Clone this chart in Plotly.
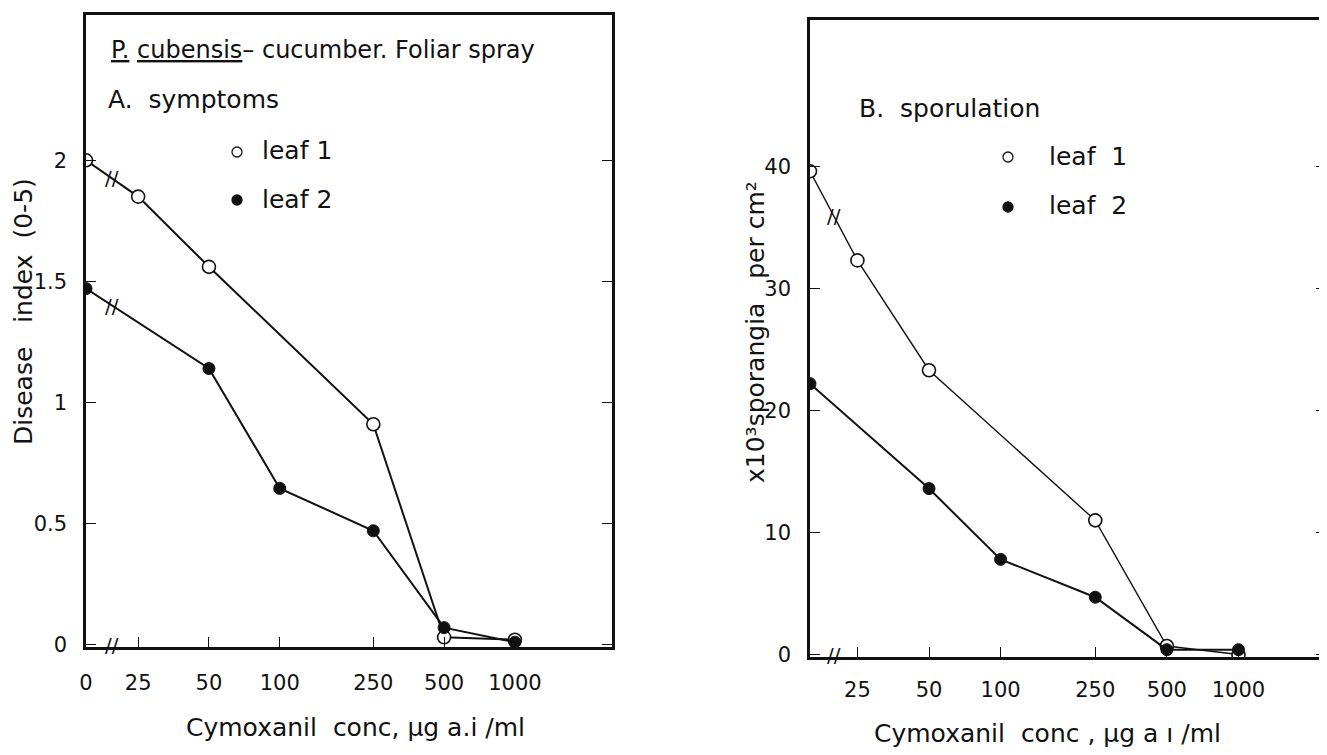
import math
import plotly.graph_objects as go

# ---------------- data ----------------
conc = [0, 25, 50, 100, 250, 500, 1000]
tick_labels_A = ["0", "25", "50", "100", "250", "500", "1000"]
tick_labels_B = ["25", "50", "100", "250", "500", "1000"]

A_leaf1 = [2.0, 1.85, 1.56, None, 0.91, 0.03, 0.02]
A_leaf2 = [1.47, None, 1.14, 0.645, 0.47, 0.07, 0.01]

B_leaf1 = [39.6, 32.3, 23.3, None, 11.0, 0.7, 0.0]
B_leaf2 = [22.2, None, 13.6, 7.8, 4.7, 0.4, 0.4]

A_yticks = [0, 0.5, 1, 1.5, 2]
A_yticktext = ["0", "0.5", "1", "1.5", "2"]
B_yticks = [0, 10, 20, 30, 40]

# plotting position used for the "0" dose on the broken log axis
ZERO_POS_A = 15.0
ZERO_POS_B = 15.8

# page is 1327x755; the html body adds an 8px margin around the figure
OFF = 8
W, H = 1327 - OFF, 755 - OFF
FONT = "'DejaVu Sans', sans-serif"
INK = "#111111"


def px_x(p):
    return (p - OFF) / W


def px_y(p):
    return 1 - (p - OFF) / H


def xpos(values, zero_pos):
    return [zero_pos if c == 0 else c for c in values]


xA = xpos(conc, ZERO_POS_A)
xB = xpos(conc, ZERO_POS_B)

fig = go.Figure()

open_marker = dict(symbol="circle", size=13, color="white", line=dict(color=INK, width=1.6))
fill_marker = dict(symbol="circle", size=12, color=INK, line=dict(color=INK, width=1))

fig.add_trace(go.Scatter(x=xA, y=A_leaf1, mode="lines+markers", connectgaps=True,
                         line=dict(color=INK, width=2), marker=open_marker,
                         xaxis="x", yaxis="y", showlegend=False, name="leaf 1"))
fig.add_trace(go.Scatter(x=xA, y=A_leaf2, mode="lines+markers", connectgaps=True,
                         line=dict(color=INK, width=2), marker=fill_marker,
                         xaxis="x", yaxis="y", showlegend=False, name="leaf 2"))
fig.add_trace(go.Scatter(x=xB, y=B_leaf1, mode="lines+markers", connectgaps=True,
                         line=dict(color=INK, width=1.4), marker=open_marker,
                         xaxis="x2", yaxis="y2", showlegend=False, name="leaf 1"))
fig.add_trace(go.Scatter(x=xB, y=B_leaf2, mode="lines+markers", connectgaps=True,
                         line=dict(color=INK, width=2), marker=fill_marker,
                         xaxis="x2", yaxis="y2", showlegend=False, name="leaf 2"))

tickfont = dict(family=FONT, size=21, color=INK)

common_x = dict(type="log", showgrid=False, zeroline=False, showline=True,
                linecolor=INK, linewidth=3, mirror=True, ticks="inside",
                ticklen=10, tickcolor=INK, tickwidth=1.2, tickfont=tickfont,
                automargin=False)
common_y = dict(showgrid=False, zeroline=False, showline=True, linecolor=INK,
                linewidth=2.5, mirror="ticks", ticks="inside", ticklen=10,
                tickcolor=INK, tickwidth=1.2, tickfont=tickfont,
                ticklabelstandoff=12, automargin=False)

fig.update_layout(
    width=W, height=H,
    margin=dict(l=0, r=0, t=0, b=0),
    paper_bgcolor="white", plot_bgcolor="white",
    font=dict(family=FONT, color=INK, size=21),
    xaxis=dict(common_x, domain=[px_x(86), px_x(612)],
               range=[math.log10(ZERO_POS_A), 3.413], ticklabelstandoff=15,
               tickvals=xA, ticktext=tick_labels_A, anchor="y"),
    yaxis=dict(common_y, domain=[px_y(647), px_y(15)], range=[-0.01, 2.6],
               tickvals=A_yticks, ticktext=A_yticktext, anchor="x"),
    xaxis2=dict(common_x, domain=[px_x(810), px_x(1326)],
                range=[math.log10(ZERO_POS_B), 3.368], ticklabelstandoff=12,
                tickvals=xB[1:], ticktext=tick_labels_B, anchor="y2"),
    yaxis2=dict(common_y, domain=[px_y(657), px_y(20)], range=[-0.2, 52],
                tickvals=B_yticks, ticktext=[str(v) for v in B_yticks], anchor="x2"),
)

ann = []
shapes = []


def text(x, y, s, size=24, xanchor="left", angle=0):
    ann.append(dict(x=px_x(x), y=px_y(y), xref="paper", yref="paper", text=s,
                    showarrow=False, xanchor=xanchor, yanchor="middle",
                    textangle=angle, font=dict(family=FONT, size=size, color=INK)))


def legend_dot(x, y, filled, r=5):
    shapes.append(dict(type="circle", xref="paper", yref="paper",
                       x0=px_x(x - r), x1=px_x(x + r), y0=px_y(y + r), y1=px_y(y - r),
                       line=dict(color=INK, width=1.3),
                       fillcolor=INK if filled else "white"))


# panel A texts
text(109, 50, "<u>P.</u> <u>cubensis</u>– cucumber. Foliar spray", size=24)
text(106, 100, "A.  symptoms", size=25)
legend_dot(237, 152, False)
text(260, 151, "leaf 1", size=25)
legend_dot(237, 200, True)
text(260, 199, "leaf 2", size=25)
text(24, 312, "Disease   index  (0-5)", size=25, xanchor="center", angle=-90)
text(355, 727, "Cymoxanil  conc, μg a.i /ml", size=25, xanchor="center")

# panel B texts
text(857, 108, "B.  sporulation", size=25)
legend_dot(1008, 157, False)
text(1047, 156, "leaf  1", size=25)
legend_dot(1008, 207, True)
text(1047, 206, "leaf  2", size=25)
text(755, 332, "x10³sporangia   per cm²", size=25, xanchor="center", angle=-90)
text(1047, 733, "Cymoxanil  conc , μg a ı /ml", size=25, xanchor="center")


# axis-break marks, placed through the axes
def break_mark(xref, yref, zero_pos, x_next, y0, y1, yval=None):
    lx = (math.log10(zero_pos) + math.log10(25)) / 2
    if yval is None:
        f = (lx - math.log10(zero_pos)) / (math.log10(x_next) - math.log10(zero_pos))
        yval = y0 + f * (y1 - y0)
    ann.append(dict(x=lx, y=yval, xref=xref, yref=yref, text="//", showarrow=False,
                    xanchor="center", yanchor="middle",
                    font=dict(family=FONT, size=20, color=INK)))


break_mark("x", "y", ZERO_POS_A, 25, A_leaf1[0], A_leaf1[1])
break_mark("x", "y", ZERO_POS_A, 50, A_leaf2[0], A_leaf2[2])
break_mark("x", "y", ZERO_POS_A, 25, 0, 0, yval=0)
break_mark("x2", "y2", ZERO_POS_B, 25, B_leaf1[0], B_leaf1[1])
break_mark("x2", "y2", ZERO_POS_B, 25, 0, 0, yval=0)

fig.update_layout(annotations=ann, shapes=shapes)

fig.write_html("out.html")
